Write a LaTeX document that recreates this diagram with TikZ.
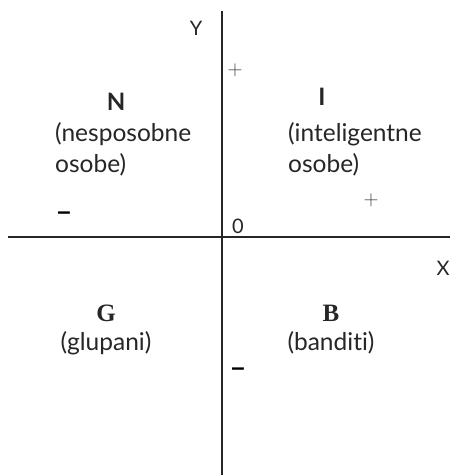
\documentclass[tikz,border=0pt]{standalone}
\usepackage{fontspec}
\setmainfont{Lato}[Ligatures={NoCommon}]
\newfontfamily\serifbf{Liberation Serif}
\newfontfamily\signfont{Liberation Sans}
\usepackage{tikz}

\tikzset{
  axis/.style={line width=2pt, draw=black!85},
  lbl/.style={inner sep=0pt, font=\fontsize{24.5}{31}\selectfont, text=black!85},
  sign/.style={inner sep=0pt, font=\fontsize{22}{24}\selectfont, text=black!75},
  minus/.style={inner sep=0pt, font=\fontsize{24}{24}\selectfont\signfont\bfseries, text=black},
}

\begin{document}
\begin{tikzpicture}[x={(1pt,0pt)}, y={(0pt,-1pt)}]
  \useasboundingbox (0,0) rectangle (450,475);
  % Axis ends
  \coordinate (YTop) at (222,11);
  \coordinate (YBot) at (222,475);
  \coordinate (XLeft) at (8,237);
  \coordinate (XRight) at (450,237);

  % Axes
  \draw[axis] (YTop) -- (YBot);
  \draw[axis] (XLeft) -- (XRight);

  % Axis labels
  \node[lbl, font=\fontsize{20}{24}\selectfont] (YName) at (196,28) {Y};
  \node[lbl, font=\fontsize{20}{24}\selectfont] (XName) at (443,268) {X};
  \node[lbl, font=\fontsize{20}{24}\selectfont] (Origin) at (238,226) {0};

  % Signs
  \node[sign] (YPlus) at (235,70) {$+$};
  \node[sign] (XPlus) at (371,200) {$+$};
  \node[minus] (XMinus) at (64,216) {–};
  \node[minus] (YMinus) at (238,372) {–};

  % Quadrants
  \node[lbl, font=\fontsize{24}{31}\selectfont\bfseries] (QuadN) at (116,102) {N};
  \node[lbl, anchor=west, align=left] (TextN) at (55,149) {(nesposobne\\osobe)};

  \node[lbl, font=\fontsize{24}{31}\selectfont\bfseries] (QuadI) at (322,97) {I};
  \node[lbl, anchor=west, align=left] (TextI) at (288,149) {(inteligentne\\osobe)};

  \node[lbl, font=\fontsize{25}{31}\selectfont\serifbf\bfseries] (QuadG) at (106,313) {G};
  \node[lbl] (TextG) at (106,343) {(glupani)};

  \node[lbl, font=\fontsize{25}{31}\selectfont\serifbf\bfseries] (QuadB) at (331,313) {B};
  \node[lbl] (TextB) at (331,343) {(banditi)};
\end{tikzpicture}
\end{document}
